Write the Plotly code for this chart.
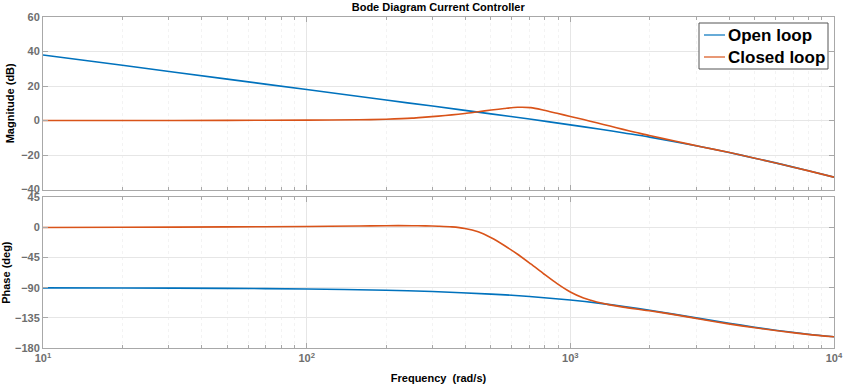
import plotly.graph_objects as go
from plotly.subplots import make_subplots

# ---- data ----
freq_ol = [10, 20, 50, 100, 200, 300, 500, 700, 1000, 1300, 1600, 2000, 3000, 4000, 5000, 6000, 8000, 10000]
mag_ol = [38.0, 32.0, 24.0, 18.0, 11.9, 8.4, 3.9, 0.9, -2.5, -5.0, -7.2, -9.6, -14.6, -18.5, -21.8, -24.5, -29.1, -32.8]
phase_ol = [-90.2, -90.4, -91.0, -91.9, -93.8, -95.7, -99.5, -103.1, -108.4, -113.4, -118.1, -123.7, -135.0, -143.1, -149.0, -153.4, -159.4, -163.3]

freq_cl = [10, 20, 50, 100, 158, 200, 251, 282, 316, 355, 398, 447, 501, 562, 631, 708, 794, 891,
           1000, 1122, 1259, 1413, 1585, 1778, 1995, 2512, 3162, 3981, 5012, 6310, 7943, 10000]
mag_cl = [0.0, 0.0, 0.1, 0.25, 0.45, 0.8, 1.4, 2.0, 2.6, 3.3, 4.1, 5.1, 6.1, 7.0, 7.7, 7.5, 6.0, 4.2,
          2.4, 0.6, -1.3, -3.2, -5.1, -6.9, -8.7, -12.0, -15.3, -18.4, -21.8, -25.3, -29.0, -32.8]
phase_cl = [0.0, 0.3, 0.8, 1.5, 2.2, 2.6, 2.6, 2.4, 1.8, 0.8, -1.5, -6.5, -15.5, -27.0, -40.0, -54.5, -69.5, -84.0,
            -96.5, -105.5, -111.3, -115.6, -119.0, -121.8, -124.4, -130.5, -137.4, -144.0, -149.8, -155.0, -159.6, -163.3]

x_major = [10, 100, 1000, 10000]
x_major_text = ["10<sup>1</sup>", "10<sup>2</sup>", "10<sup>3</sup>", "10<sup>4</sup>"]
x_minor = [m * d for d in (10, 100, 1000) for m in range(2, 10)]

names = ["Open loop", "Closed loop"]
colors = ["#0072BD", "#D95319"]

FONT = "Liberation Sans"
TICKC = "#6e6e6e"
AXC = "#a8a8a8"

# figure geometry (pixels) used for margins / legend box
W, H = 846, 392
ML, MR, MT, MB = 43, 12, 17, 44
PW, PH = W - ML - MR, H - MT - MB


def px(xp):
    return (xp - ML) / PW


def py(yp):
    return (H - MB - yp) / PH


fig = make_subplots(rows=2, cols=1, shared_xaxes=False, vertical_spacing=0.0)

series = [(freq_ol, mag_ol, phase_ol, 0), (freq_cl, mag_cl, phase_cl, 1)]
for f, m, p, i in series:
    fig.add_trace(go.Scatter(x=f, y=m, mode="lines", name=names[i], showlegend=False,
                             line=dict(color=colors[i], width=1.6, shape="spline", smoothing=0.8)),
                  row=1, col=1)
    fig.add_trace(go.Scatter(x=f, y=p, mode="lines", name=names[i], showlegend=False,
                             line=dict(color=colors[i], width=1.6, shape="spline", smoothing=0.8)),
                  row=2, col=1)

xcommon = dict(type="log", range=[1, 4], showline=True, linecolor=AXC, linewidth=1,
               mirror="ticks", ticks="inside", ticklen=5, tickcolor=AXC,
               showgrid=True, gridcolor="#e6e6e6", gridwidth=1, zeroline=False,
               tickmode="array", tickvals=x_major, automargin=False,
               minor=dict(tickmode="array", tickvals=x_minor, ticks="inside", ticklen=3,
                          tickcolor=AXC, showgrid=True, gridcolor="#f3f3f3", griddash="dot"),
               tickfont=dict(family=FONT, size=11, color=TICKC, weight="bold"))

fig.update_xaxes(**xcommon, showticklabels=False, row=1, col=1)
fig.update_xaxes(**xcommon, showticklabels=True, ticktext=x_major_text,
                 title=dict(text="Frequency  (rad/s)", standoff=11,
                            font=dict(family=FONT, size=11, color="black", weight="bold")),
                 row=2, col=1)

ycommon = dict(showline=True, linecolor=AXC, linewidth=1, mirror="ticks",
               ticks="inside", ticklen=5, tickcolor=AXC, automargin=False,
               showgrid=True, gridcolor="#e6e6e6", zeroline=False,
               tickfont=dict(family=FONT, size=11, color=TICKC, weight="bold"))

fig.update_yaxes(**ycommon, range=[-40, 60], tickvals=[-40, -20, 0, 20, 40, 60],
                 domain=[0.4785, 1.0],
                 title=dict(text="Magnitude (dB)", standoff=4,
                            font=dict(family=FONT, size=11, color="black", weight="bold")),
                 row=1, col=1)
fig.update_yaxes(**ycommon, range=[-180, 45], tickvals=[-180, -135, -90, -45, 0, 45],
                 domain=[0.0, 0.4553],
                 title=dict(text="Phase (deg)", standoff=2,
                            font=dict(family=FONT, size=11, color="black", weight="bold")),
                 row=2, col=1)

# ---- hand-built legend box (MATLAB style) ----
shapes = [dict(type="rect", xref="paper", yref="paper",
               x0=px(699), x1=px(828), y0=py(69), y1=py(23),
               line=dict(color="#555555", width=1), fillcolor="white", layer="above")]
annotations = []
for i, yrow in enumerate([35, 57]):
    shapes.append(dict(type="line", xref="paper", yref="paper",
                       x0=px(704), x1=px(725), y0=py(yrow), y1=py(yrow),
                       line=dict(color=colors[i], width=1.2), layer="above"))
    annotations.append(dict(xref="paper", yref="paper", x=px(726), y=py(yrow),
                            xanchor="left", yanchor="middle", showarrow=False,
                            text=names[i],
                            font=dict(family=FONT, size=17, color="black", weight="bold")))

fig.update_layout(
    width=W, height=H,
    margin=dict(l=ML, r=MR, t=MT, b=MB, autoexpand=False),
    paper_bgcolor="white", plot_bgcolor="white",
    title=dict(text="Bode Diagram Current Controller", x=0.518, xanchor="center",
               y=1 - 7 / H, yanchor="middle",
               font=dict(family=FONT, size=11, color="black", weight="bold")),
    shapes=shapes,
    annotations=annotations,
    showlegend=False,
)

fig.write_html("out.html")
